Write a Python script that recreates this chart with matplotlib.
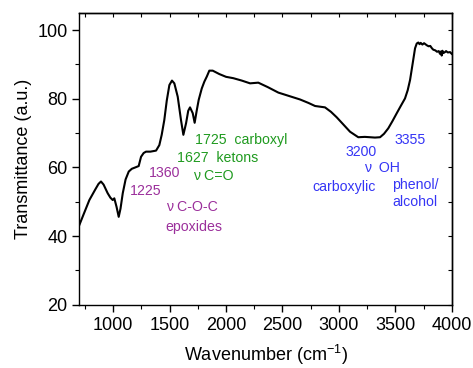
import numpy as np
import matplotlib
matplotlib.use("Agg")
import matplotlib.pyplot as plt
from matplotlib.ticker import MultipleLocator

plt.rcParams["font.family"] = ["Liberation Sans", "DejaVu Sans"]
plt.rcParams["mathtext.fontset"] = "custom"
plt.rcParams["mathtext.rm"] = "Liberation Sans"
plt.rcParams["mathtext.it"] = "Liberation Sans:italic"

# FTIR spectrum
wavenumber = [700, 740, 789, 840, 870, 892, 915, 951, 975, 996, 1010, 1030, 1049,
              1065, 1085, 1110, 1138, 1165, 1196, 1226, 1247, 1270, 1291, 1330,
              1380, 1409, 1430, 1453, 1475, 1498, 1521, 1542, 1572, 1601, 1622,
              1646, 1665, 1681, 1705, 1722, 1740, 1758, 1785, 1808, 1830, 1852,
              1882, 1941, 2000, 2065, 2140, 2213, 2286, 2370, 2464, 2560, 2656,
              2730, 2789, 2877, 2930, 2981, 3040, 3099, 3172, 3230, 3276, 3320,
              3365, 3400, 3438, 3475, 3513, 3550, 3586, 3610, 3631, 3655, 3675,
              3690, 3704, 3715, 3725, 3740, 3755, 3779, 3795, 3810, 3825, 3837,
              3855, 3870, 3885, 3896, 3905, 3911, 3918, 3925, 3940, 3950, 3965,
              3985, 4000]
transmittance = [43.2, 46.5, 50.5, 53.5, 55.2, 55.9, 55.0, 52.5, 51.2, 50.5, 51.0, 48.5, 45.6,
                 48.0, 52.5, 56.5, 58.8, 59.6, 60.0, 60.4, 63.1, 64.2, 64.6, 64.6,
                 64.9, 66.5, 69.5, 73.8, 79.5, 84.0, 85.3, 84.5, 80.6, 73.8, 69.5,
                 72.9, 76.5, 77.5, 75.8, 73.0, 76.5, 79.7, 83.0, 85.0, 86.5, 88.2,
                 88.2, 87.2, 86.4, 86.0, 85.3, 84.5, 84.7, 83.4, 81.8, 80.8, 79.8,
                 78.8, 77.9, 77.5, 76.2, 74.6, 72.5, 70.4, 68.8, 68.9, 68.8, 68.7,
                 68.8, 69.8, 71.4, 73.5, 75.8, 78.0, 80.1, 82.5, 85.5, 90.5, 94.7,
                 96.1, 96.4, 95.9, 96.3, 95.8, 96.2, 95.6, 95.3, 95.4, 94.7, 94.3,
                 94.1, 93.7, 93.9, 93.1, 93.8, 92.6, 94.0, 93.3, 93.6, 93.9, 93.5,
                 93.6, 93.1]

# band labels: (text, wavenumber, transmittance)
green_labels = [("1725  carboxyl", 1725, 68.0),
                ("1627  ketons", 1566, 62.8),
                ("\u03bd C=O", 1708, 57.5)]
purple_labels = [("1360", 1318, 58.4),
                 ("1225", 1149, 53.1),
                 ("\u03bd C-O-C", 1468, 48.5),
                 ("epoxides", 1459, 42.6)]
blue_labels = [("3355", 3489, 68.0),
               ("3200", 3055, 64.5),
               ("\u03bd  OH", 3223, 59.8),
               ("carboxylic", 2762, 54.3),
               ("phenol/", 3471, 54.9),
               ("alcohol", 3471, 49.9)]

fig = plt.figure(figsize=(4.73, 3.68), dpi=100)
ax = fig.add_axes([0.1677, 0.172, 0.7873, 0.7927])

ax.plot(wavenumber, transmittance, color="black", linewidth=1.5)

for labels, color in [(green_labels, "#1f9a1f"), (purple_labels, "#9b2f9b"),
                      (blue_labels, "#3535f5")]:
    for txt, x, y in labels:
        ax.text(x, y, txt, color=color, fontsize=10.2, ha="left", va="center")

ax.set_xlim(700, 4000)
ax.set_ylim(20, 105)
ax.xaxis.set_major_locator(MultipleLocator(500))
ax.xaxis.set_minor_locator(MultipleLocator(250))
ax.yaxis.set_major_locator(MultipleLocator(20))
ax.yaxis.set_minor_locator(MultipleLocator(10))

ax.tick_params(axis="both", which="major", direction="out", length=5, width=1,
               labelsize=13)
ax.tick_params(axis="both", which="minor", direction="out", length=3, width=0.8)

# inward ticks on top and right
axt = ax.secondary_xaxis("top")
axt.xaxis.set_major_locator(MultipleLocator(250))
axt.tick_params(direction="in", length=3, width=0.8, labeltop=False)
axr = ax.secondary_yaxis("right")
axr.yaxis.set_major_locator(MultipleLocator(10))
axr.tick_params(direction="in", length=3, width=0.8, labelright=False)
for a in (axt, axr):
    for s in a.spines.values():
        s.set_linewidth(1)

for s in ax.spines.values():
    s.set_linewidth(1)

ax.set_xlabel("Wavenumber (cm$^{-1}$)", fontsize=13, labelpad=7)
ax.set_ylabel("Transmittance (a.u.)", fontsize=13)

fig.savefig("out.png", dpi=100)
